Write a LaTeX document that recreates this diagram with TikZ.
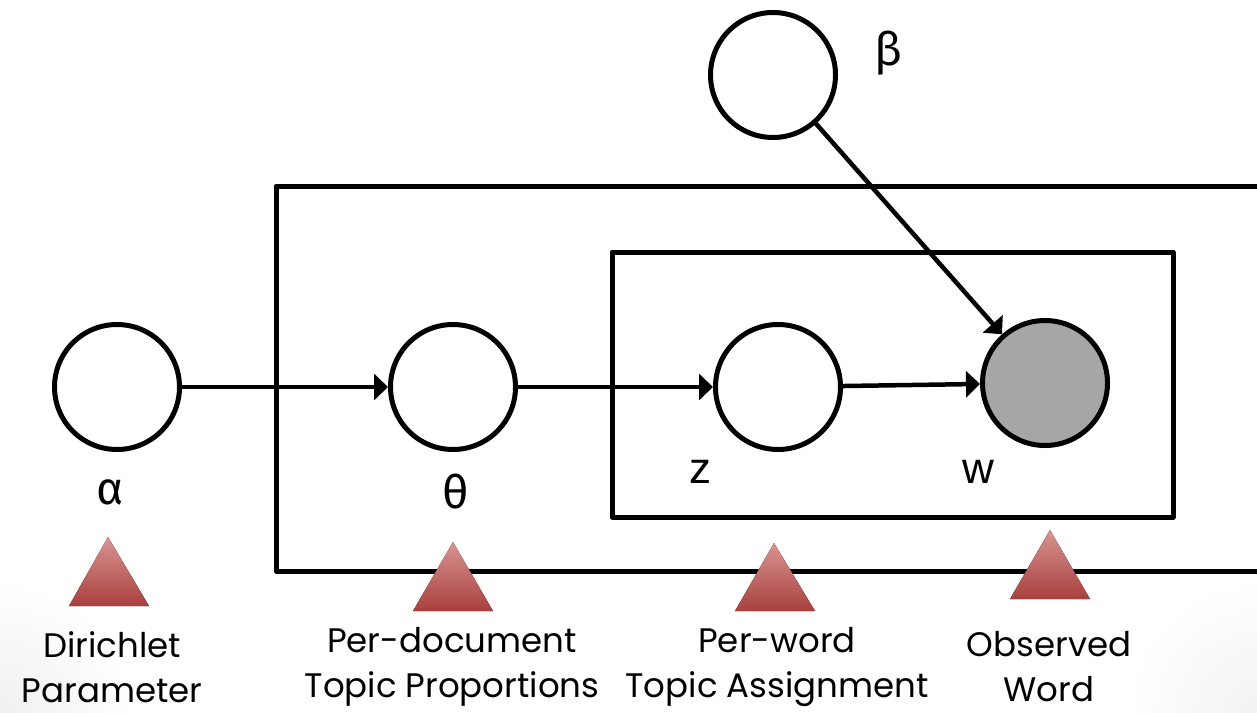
\documentclass[tikz,border=0pt]{standalone}
\usepackage{fontspec}
\setmainfont{Poppins}
\newfontfamily\greekfont{Fira Sans}
\newfontfamily\varfont{Liberation Sans}
\usetikzlibrary{arrows.meta}
\definecolor{trilight}{HTML}{D89492}
\definecolor{tridark}{HTML}{A8403D}
\definecolor{obsgray}{HTML}{A6A6A6}
\tikzset{
  var/.style={circle, draw, line width=5pt, minimum size=125pt, inner sep=0pt, fill=white},
  obs/.style={var, fill=obsgray},
  edge/.style={line width=4.5pt, -{Triangle[length=14pt,width=26pt]}},
  plate/.style={line width=5pt, line join=round},
  marker/.style={top color=trilight, bottom color=tridark, draw=none},
  caption/.style={align=center, font=\fontsize{34}{45}\selectfont, inner sep=0pt},
  glabel/.style={font=\greekfont\fontsize{46}{50}\selectfont, inner sep=0pt},
  vlabel/.style={font=\varfont\fontsize{44}{50}\selectfont, inner sep=0pt}
}
\begin{document}
\begin{tikzpicture}[x=1pt,y=-1pt]
\useasboundingbox (0,0) rectangle (1257,712);
\clip (0,0) rectangle (1257,712);
% faint slide shading in bottom corners
\shade[inner color=black!6, outer color=white] (0,712) circle (130);
\shade[inner color=black!5, outer color=white] (1257,712) circle (130);
% plates
\draw[plate] (1290,186) -- (276,186) -- (276,571) -- (1290,571);
\draw[plate] (612,252) rectangle (1173,517);
% nodes
\node[var] (alpha) at (117,387) {};
\node[var] (theta) at (453,387) {};
\node[var] (z) at (778,387) {};
\node[obs] (w) at (1045,383) {};
\node[var] (beta) at (773,75) {};
% edges
\draw[edge] (alpha) -- (theta);
\draw[edge] (theta) -- (z);
\draw[edge] (z) -- (w);
\draw[edge] (beta) -- (w);
% labels
\node[glabel] (la) at (110,492) {α};
\node[glabel] (lt) at (456,492) {θ};
\node[glabel] (lb) at (888,53) {β};
\node[vlabel] (lz) at (700,472) {z};
\node[vlabel] (lw) at (978,472) {w};
% markers
\fill[marker] (108,537) -- (149,606) -- (69,606) -- cycle;
\fill[marker] (453,542) -- (493,611) -- (413,611) -- cycle;
\fill[marker] (774,543) -- (815,611) -- (735,611) -- cycle;
\fill[marker] (1050,530) -- (1090,599) -- (1010,599) -- cycle;
% captions
\node[caption] (c1) at (112,667) {Dirichlet\\Parameter};
\node[caption] (c2) at (452,667) {Per-document\\Topic Proportions};
\node[caption] (c3) at (777,667) {Per-word\\Topic Assignment};
\node[caption] (c4) at (1049,667) {Observed\\Word};
\end{tikzpicture}
\end{document}
